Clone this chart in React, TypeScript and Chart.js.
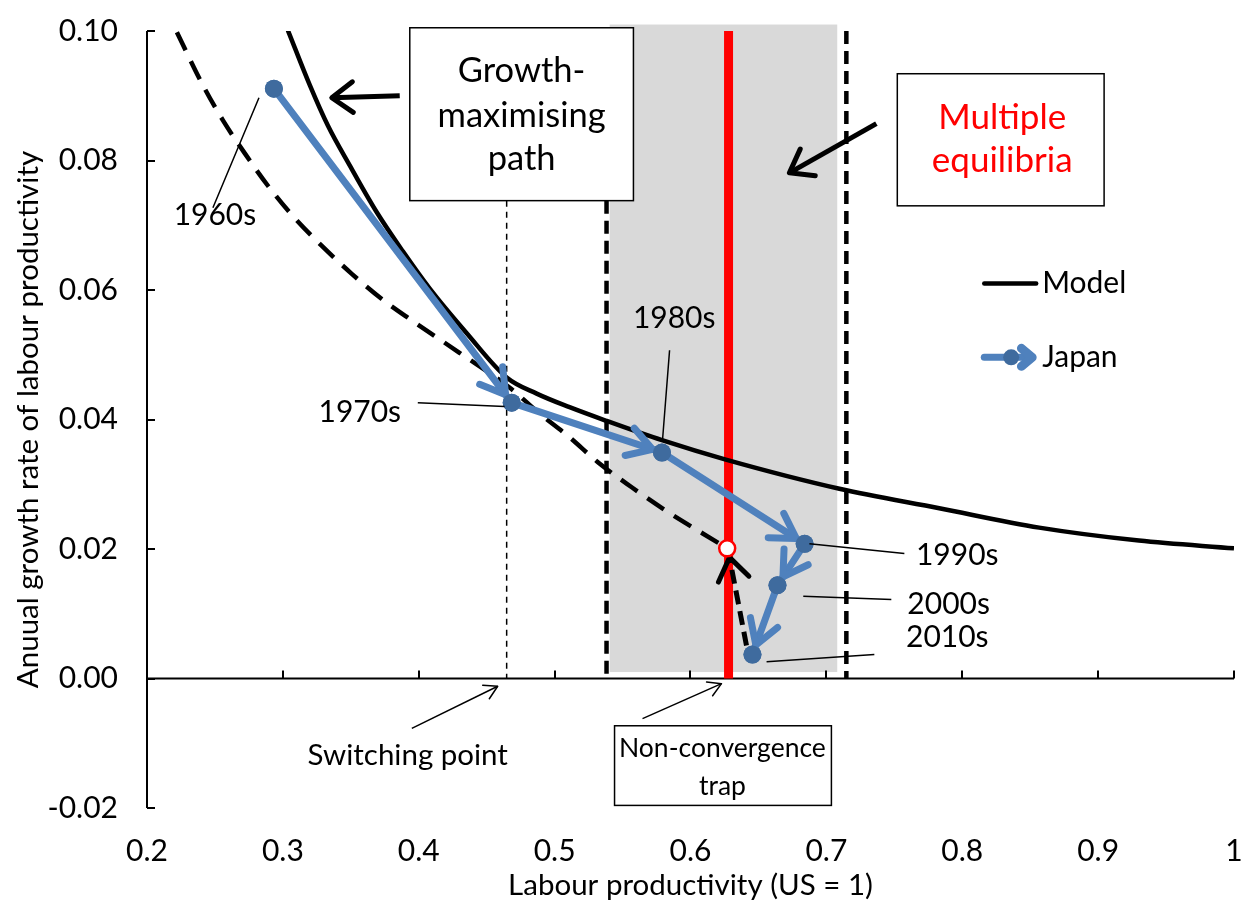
import React, { useEffect, useRef } from 'react';
import { Chart, registerables } from 'chart.js';

Chart.register(...registerables);

const FONT = 'Lato, "Noto Sans", sans-serif';

// Axis ranges / ticks
const X_MIN = 0.2;
const X_MAX = 1.0;
const X_STEP = 0.1;
const Y_MIN = -0.02;
const Y_MAX = 0.1;
const Y_STEP = 0.02;

// Model (growth-maximising path), solid black
const modelX = [0.3037, 0.3199, 0.3331, 0.3493, 0.3691, 0.3882, 0.4081, 0.435, 0.4647, 0.4868, 0.511, 0.538, 0.579, 0.626, 0.7096, 0.7831, 0.8566, 0.93, 1.0];
const modelY = [0.1001, 0.0916, 0.0854, 0.0792, 0.072, 0.066, 0.0602, 0.0534, 0.0465, 0.044, 0.0419, 0.0398, 0.0368, 0.0338, 0.0293, 0.0263, 0.0233, 0.0213, 0.0201];

// Dashed black path ending at the non-convergence trap
const pathX = [0.222, 0.2412, 0.2559, 0.272, 0.289, 0.3074, 0.3287, 0.3507, 0.3728, 0.3949, 0.43, 0.467, 0.489, 0.5096, 0.533, 0.557, 0.582, 0.609, 0.627];
const pathY = [0.0998, 0.0916, 0.0862, 0.0811, 0.0761, 0.0714, 0.0668, 0.0625, 0.0586, 0.0553, 0.0503, 0.0449, 0.0409, 0.0375, 0.0332, 0.0295, 0.0259, 0.0224, 0.0201];

// Japan
const japanLabels = ['1960s', '1970s', '1980s', '1990s', '2000s', '2010s'];
const japanX = [0.2934, 0.4684, 0.579, 0.684, 0.664, 0.6456];
const japanY = [0.0911, 0.0426, 0.0349, 0.0208, 0.0144, 0.0037];

// Decade label positions (data units) and leader lines
const decadeLabelX = [0.25, 0.3566, 0.588, 0.7963, 0.79, 0.789];
const decadeLabelY = [0.0715, 0.0411, 0.0556, 0.019, 0.0114, 0.0063];
const leaderFrom = [[0.2485, 0.0727], [0.3993, 0.0426], [0.5846, 0.0507], [0.6875, 0.0208], [0.683, 0.0127], [0.656, 0.0026]];
const leaderTo = [[0.2824, 0.0897], [0.4632, 0.042], [0.5794, 0.0368], [0.7574, 0.0193], [0.7478, 0.0122], [0.7353, 0.0037]];

// Trap point
const trapX = [0.627];
const trapY = [0.0201];

// Vertical reference lines
const switchingX = 0.4647;
const leftBoundX = 0.5382;
const rightBoundX = 0.7147;
const trapLineX = 0.628;
const boxBottomY = 0.0738;
const shadeX = [0.5405, 0.708];
const shadeY = [0.001, 0.101];

// Text boxes
const growthBox = { x: [0.3934, 0.558], y: [0.1005, 0.0738] };
const growthText = ['Growth-', 'maximising', 'path'];
const growthTextX = 0.4757;
const growthTextY = [0.0939, 0.0869, 0.0803];

const multiBox = { x: [0.7522, 0.9044], y: [0.0934, 0.073] };
const multiText = ['Multiple', 'equilibria'];
const multiTextX = 0.8294;
const multiTextY = [0.0866, 0.08];

const trapBox = { x: [0.5441, 0.7037], y: [-0.0073, -0.0196] };
const trapText = ['Non-convergence', 'trap'];
const trapTextX = 0.6235;
const trapTextY = [-0.0108, -0.0167];

const switchText = 'Switching point';
const switchTextPos = [0.3919, -0.0119];

// Annotation arrows [from, to]
const growthArrow = [[0.386, 0.09], [0.336, 0.0897]];
const multiArrow = [[0.7368, 0.0857], [0.6728, 0.0781]];
const switchArrow = [[0.3949, -0.0077], [0.4581, -0.0012]];
const trapArrow = [[0.5647, -0.0062], [0.6228, -0.0008]];
const returnArrow = [[0.6412, 0.0051], [0.6287, 0.0187]];

// Legend
const legendLineX = [0.8162, 0.8544];
const legendModelY = 0.061;
const legendJapanY = 0.0496;
const legendMarkerX = 0.836;
const legendTextX = 0.8588;

const BLUE = '#4F81BD';
const MARKER = '#3F6B9E';

function chevron(ctx, tx, ty, ang, len, half, width, color) {
  ctx.save();
  ctx.strokeStyle = color;
  ctx.lineWidth = width;
  ctx.lineCap = 'round';
  ctx.lineJoin = 'round';
  ctx.setLineDash([]);
  ctx.beginPath();
  ctx.moveTo(tx - len * Math.cos(ang - half), ty - len * Math.sin(ang - half));
  ctx.lineTo(tx, ty);
  ctx.lineTo(tx - len * Math.cos(ang + half), ty - len * Math.sin(ang + half));
  ctx.stroke();
  ctx.restore();
}

function arrow(ctx, x1, y1, x2, y2, width, head, half, dash) {
  ctx.save();
  ctx.strokeStyle = '#000';
  ctx.lineWidth = width;
  ctx.setLineDash(dash || []);
  ctx.beginPath();
  ctx.moveTo(x1, y1);
  ctx.lineTo(x2, y2);
  ctx.stroke();
  ctx.restore();
  chevron(ctx, x2, y2, Math.atan2(y2 - y1, x2 - x1), head, half, width, '#000');
}

function text(ctx, s, x, y, size, color, align) {
  ctx.save();
  ctx.font = `${size}px ${FONT}`;
  ctx.fillStyle = color || '#000';
  ctx.textAlign = align || 'center';
  ctx.textBaseline = 'middle';
  ctx.fillText(s, x, y);
  ctx.restore();
}

const overlayPlugin = {
  id: 'overlay',
  beforeDatasetsDraw(chart) {
    const ctx = chart.ctx;
    const sx = chart.scales.x;
    const sy = chart.scales.y;
    const X = (v) => sx.getPixelForValue(v);
    const Y = (v) => sy.getPixelForValue(v);
    // shaded region
    ctx.save();
    ctx.fillStyle = '#D9D9D9';
    ctx.fillRect(X(shadeX[0]), Y(shadeY[1]), X(shadeX[1]) - X(shadeX[0]), Y(shadeY[0]) - Y(shadeY[1]));
    ctx.restore();
    // axes
    ctx.save();
    ctx.strokeStyle = '#000';
    ctx.lineWidth = 2;
    ctx.beginPath();
    ctx.moveTo(X(X_MIN), Y(Y_MIN));
    ctx.lineTo(X(X_MIN), Y(Y_MAX));
    ctx.moveTo(X(X_MIN), Y(0));
    ctx.lineTo(X(X_MAX), Y(0));
    for (let v = Y_MIN; v <= Y_MAX + 1e-9; v += Y_STEP) {
      ctx.moveTo(X(X_MIN), Math.round(Y(v)));
      ctx.lineTo(X(X_MIN) + 8, Math.round(Y(v)));
    }
    for (let v = X_MIN + X_STEP; v <= X_MAX + 1e-9; v += X_STEP) {
      ctx.moveTo(Math.round(X(v)), Y(0));
      ctx.lineTo(Math.round(X(v)), Y(0) - 8);
    }
    ctx.stroke();
    ctx.restore();
    // red trap line
    ctx.save();
    ctx.strokeStyle = '#FF0000';
    ctx.lineWidth = 9;
    ctx.beginPath();
    ctx.moveTo(X(trapLineX), Y(0));
    ctx.lineTo(X(trapLineX), Y(Y_MAX));
    ctx.stroke();
    // thick dashed bounds
    ctx.strokeStyle = '#000';
    ctx.lineWidth = 4.5;
    ctx.setLineDash([13, 7]);
    ctx.beginPath();
    ctx.moveTo(X(leftBoundX), Y(boxBottomY));
    ctx.lineTo(X(leftBoundX), Y(0));
    ctx.moveTo(X(rightBoundX), Y(Y_MAX));
    ctx.lineTo(X(rightBoundX), Y(0));
    ctx.stroke();
    // thin dashed switching line
    ctx.lineWidth = 1.5;
    ctx.setLineDash([6, 5]);
    ctx.beginPath();
    ctx.moveTo(X(switchingX), Y(boxBottomY));
    ctx.lineTo(X(switchingX), Y(0));
    ctx.stroke();
    ctx.restore();
  },
  afterDatasetsDraw(chart) {
    const ctx = chart.ctx;
    const sx = chart.scales.x;
    const sy = chart.scales.y;
    const X = (v) => sx.getPixelForValue(v);
    const Y = (v) => sy.getPixelForValue(v);

    // Japan arrowheads
    for (let i = 0; i < japanX.length - 1; i++) {
      const x1 = X(japanX[i]), y1 = Y(japanY[i]);
      const x2 = X(japanX[i + 1]), y2 = Y(japanY[i + 1]);
      const a = Math.atan2(y2 - y1, x2 - x1);
      const tx = x2 - 10 * Math.cos(a);
      const ty = y2 - 10 * Math.sin(a);
      chevron(ctx, tx, ty, a, 28, (31 * Math.PI) / 180, 7, BLUE);
    }
    // re-draw markers on top of arrowheads
    ctx.save();
    ctx.fillStyle = MARKER;
    for (let i = 0; i < japanX.length; i++) {
      ctx.beginPath();
      ctx.arc(X(japanX[i]), Y(japanY[i]), 9, 0, Math.PI * 2);
      ctx.fill();
    }
    ctx.restore();

    // Return arrow (dashed) to trap
    arrow(ctx, X(returnArrow[0][0]), Y(returnArrow[0][1]), X(returnArrow[1][0]), Y(returnArrow[1][1]), 5, 27, (35 * Math.PI) / 180, [14, 7]);
    // trap circle on top
    ctx.save();
    ctx.beginPath();
    ctx.arc(X(trapX[0]), Y(trapY[0]), 8, 0, Math.PI * 2);
    ctx.fillStyle = '#fff';
    ctx.fill();
    ctx.strokeStyle = '#FF0000';
    ctx.lineWidth = 2.5;
    ctx.stroke();
    ctx.restore();

    // leader lines
    ctx.save();
    ctx.strokeStyle = '#000';
    ctx.lineWidth = 1.5;
    ctx.beginPath();
    for (let i = 0; i < leaderFrom.length; i++) {
      ctx.moveTo(X(leaderFrom[i][0]), Y(leaderFrom[i][1]));
      ctx.lineTo(X(leaderTo[i][0]), Y(leaderTo[i][1]));
    }
    ctx.stroke();
    ctx.restore();
    for (let i = 0; i < japanLabels.length; i++) {
      text(ctx, japanLabels[i], X(decadeLabelX[i]), Y(decadeLabelY[i]), 30);
    }

    // boxes
    const box = (b) => {
      ctx.save();
      const x0 = X(b.x[0]), x1 = X(b.x[1]), y0 = Y(b.y[0]), y1 = Y(b.y[1]);
      ctx.fillStyle = '#fff';
      ctx.fillRect(x0, y0, x1 - x0, y1 - y0);
      ctx.strokeStyle = '#000';
      ctx.lineWidth = 1.5;
      ctx.strokeRect(x0, y0, x1 - x0, y1 - y0);
      ctx.restore();
    };
    box(growthBox);
    growthText.forEach((s, i) => text(ctx, s, X(growthTextX), Y(growthTextY[i]), 34.5));
    box(multiBox);
    multiText.forEach((s, i) => text(ctx, s, X(multiTextX), Y(multiTextY[i]), 35, '#FF0000'));
    box(trapBox);
    trapText.forEach((s, i) => text(ctx, s, X(trapTextX), Y(trapTextY[i]), 26.5));
    text(ctx, switchText, X(switchTextPos[0]), Y(switchTextPos[1]), 29.5);

    // annotation arrows
    arrow(ctx, X(growthArrow[0][0]), Y(growthArrow[0][1]), X(growthArrow[1][0]), Y(growthArrow[1][1]), 5, 26, (36 * Math.PI) / 180);
    arrow(ctx, X(multiArrow[0][0]), Y(multiArrow[0][1]), X(multiArrow[1][0]), Y(multiArrow[1][1]), 5, 26, (36 * Math.PI) / 180);
    arrow(ctx, X(switchArrow[0][0]), Y(switchArrow[0][1]), X(switchArrow[1][0]), Y(switchArrow[1][1]), 1.5, 15, (30 * Math.PI) / 180);
    arrow(ctx, X(trapArrow[0][0]), Y(trapArrow[0][1]), X(trapArrow[1][0]), Y(trapArrow[1][1]), 1.5, 15, (30 * Math.PI) / 180);

    // legend
    ctx.save();
    ctx.strokeStyle = '#000';
    ctx.lineWidth = 4.5;
    ctx.lineCap = 'round';
    ctx.beginPath();
    ctx.moveTo(X(legendLineX[0]), Y(legendModelY));
    ctx.lineTo(X(legendLineX[1]), Y(legendModelY));
    ctx.stroke();
    ctx.strokeStyle = BLUE;
    ctx.lineWidth = 7;
    ctx.beginPath();
    ctx.moveTo(X(legendLineX[0]), Y(legendJapanY));
    ctx.lineTo(X(legendLineX[1]) - 6, Y(legendJapanY));
    ctx.stroke();
    ctx.restore();
    chevron(ctx, X(legendLineX[1]) - 4, Y(legendJapanY), 0, 14, (40 * Math.PI) / 180, 9, BLUE);
    ctx.save();
    ctx.fillStyle = MARKER;
    ctx.beginPath();
    ctx.arc(X(legendMarkerX), Y(legendJapanY), 8, 0, Math.PI * 2);
    ctx.fill();
    ctx.restore();
    text(ctx, 'Model', X(legendTextX), Y(legendModelY), 30, '#000', 'left');
    text(ctx, 'Japan', X(legendTextX), Y(legendJapanY), 30, '#000', 'left');

    // axis titles
    const ca = chart.chartArea;
    text(ctx, 'Labour productivity (US = 1)', (ca.left + ca.right) / 2, 885, 29.5);
    ctx.save();
    ctx.translate(28, (ca.top + ca.bottom) / 2);
    ctx.rotate(-Math.PI / 2);
    text(ctx, 'Anuual growth rate of labour productivity', 0, 0, 29.5);
    ctx.restore();
  },
};

export default function App() {
  const ref = useRef(null);
  useEffect(() => {
    const toPts = (xs, ys) => xs.map((x, i) => ({ x, y: ys[i] }));
    const chart = new Chart(ref.current, {
      type: 'scatter',
      data: {
        datasets: [
          {
            label: 'Japan',
            data: toPts(japanX, japanY),
            showLine: true,
            borderColor: BLUE,
            borderWidth: 7,
            pointRadius: 9,
            pointBackgroundColor: MARKER,
            pointBorderWidth: 0,
            tension: 0,
          },
          {
            label: 'Model',
            data: toPts(modelX, modelY),
            showLine: true,
            borderColor: '#000',
            borderWidth: 4.5,
            pointRadius: 0,
            cubicInterpolationMode: 'monotone',
          },
          {
            label: 'Path',
            data: toPts(pathX, pathY),
            showLine: true,
            borderColor: '#000',
            borderWidth: 4.5,
            borderDash: [20, 12],
            pointRadius: 0,
            cubicInterpolationMode: 'monotone',
          },
        ],
      },
      options: {
        animation: false,
        responsive: false,
        maintainAspectRatio: false,
        events: [],
        layout: { padding: { top: 31, right: 8, left: 0, bottom: 0 } },
        plugins: { legend: { display: false }, tooltip: { enabled: false } },
        scales: {
          x: {
            type: 'linear',
            min: X_MIN,
            max: X_MAX,
            afterFit: (s) => {
              s.height = 95;
              s.paddingLeft = 0;
              s.paddingRight = 0;
            },
            grid: { display: false, drawTicks: false },
            border: { display: false },
            ticks: {
              stepSize: X_STEP,
              autoSkip: false,
              maxRotation: 0,
              padding: 25,
              color: '#000',
              font: { family: FONT, size: 30 },
              callback: (v) => (Math.abs(v - 1) < 1e-9 ? '1' : Number(v).toFixed(1)),
            },
          },
          y: {
            type: 'linear',
            min: Y_MIN,
            max: Y_MAX,
            afterFit: (s) => {
              s.width = 147;
              s.paddingTop = 0;
              s.paddingBottom = 0;
            },
            grid: { display: false, drawTicks: false },
            border: { display: false },
            ticks: {
              stepSize: Y_STEP,
              padding: 29,
              color: '#000',
              font: { family: FONT, size: 30 },
              callback: (v) => Number(v).toFixed(2),
            },
          },
        },
      },
      plugins: [overlayPlugin],
    });
    return () => chart.destroy();
  }, []);
  return (
    <div style={{ position: 'absolute', left: 0, top: 0, width: 1243, height: 903, background: '#fff' }}>
      <canvas ref={ref} width={1243} height={903} style={{ display: 'block' }} />
    </div>
  );
}
